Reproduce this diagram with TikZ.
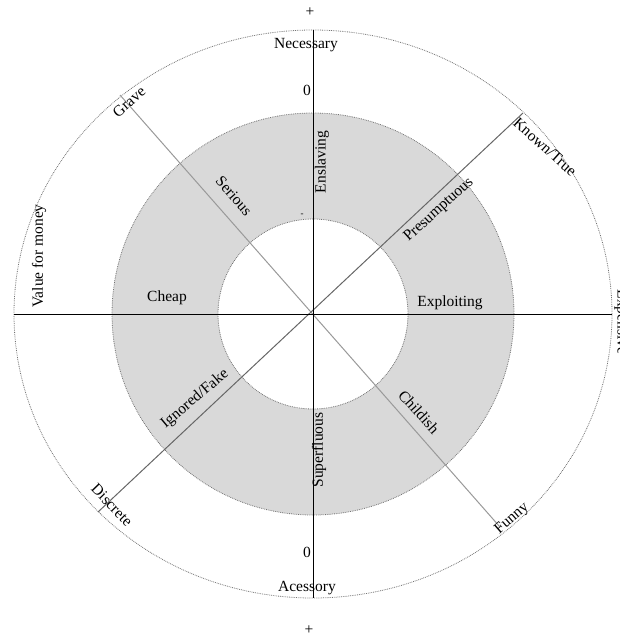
\documentclass[tikz,border=0pt]{standalone}
\usepackage{fontspec}
\setmainfont{Liberation Serif}
\begin{document}
\begin{tikzpicture}[x=1pt,y=-1pt,
  lbl/.style={inner sep=0pt,font=\fontsize{15.5}{18}\selectfont},
  ring/.style={draw=black!55,densely dotted,line width=0.8pt},
  axis/.style={draw=black,line width=0.9pt},
  diagA/.style={draw=black!40,line width=1pt},
  diagB/.style={draw=black!60,line width=1pt}]
\useasboundingbox (0,0) rectangle (620,641);
\coordinate (C) at (313,314);
% rings
\fill[black!15,even odd rule] (C) circle (201pt) (C) circle (95pt);
\draw[ring] (C) circle (201pt);
\draw[ring] (C) circle (95pt);
\draw[ring] (C) ellipse [x radius=299pt, y radius=284pt];
% axis end points
\coordinate (T) at (313,30);
\coordinate (B) at (313,598);
\coordinate (L) at (14,314);
\coordinate (R) at (612,314);
\coordinate (G) at (120,95);
\coordinate (F) at (500,527);
\coordinate (K) at (523,113);
\coordinate (D) at (98,512);
\draw[diagA] (G) -- (F);
\draw[diagB] (K) -- (D);
\draw[axis] (T) -- (B);
\draw[axis] (L) -- (R);
% labels
\node[lbl] (plusT) at (310,12) {+};
\node[lbl] (nec) at (306,45) {Necessary};
\node[lbl] (zeroT) at (307,90) {0};
\node[lbl,font=\fontsize{9}{10}\selectfont] (dash) at (302,215) {-};
\node[lbl,rotate=90] (ensl) at (322,162) {Enslaving};
\node[lbl,rotate=90] (sup) at (319,450) {Superfluous};
\node[lbl] (zeroB) at (307,552) {0};
\node[lbl] (aces) at (307,588) {Acessory};
\node[lbl] (plusB) at (309,630) {+};
\node[lbl,rotate=90] (vfm) at (39,256) {Value for money};
\node[lbl,rotate=-90] (exp) at (621,322) {Expensive};
\node[lbl,rotate=41] (grave) at (129,102) {Grave};
\node[lbl,rotate=-49] (ser) at (234,196) {Serious};
\node[lbl,rotate=42] (pres) at (439,210) {Presumptuous};
\node[lbl,rotate=-42] (known) at (545,147) {Known/True};
\node[lbl] (cheap) at (167,298) {Cheap};
\node[lbl] (expl) at (450,303) {Exploiting};
\node[lbl,rotate=40] (ign) at (195,399) {Ignored/Fake};
\node[lbl,rotate=-48] (child) at (419,412) {Childish};
\node[lbl,rotate=-46] (disc) at (112,505) {Discrete};
\node[lbl,rotate=41] (funny) at (512,519) {Funny};
\end{tikzpicture}
\end{document}
